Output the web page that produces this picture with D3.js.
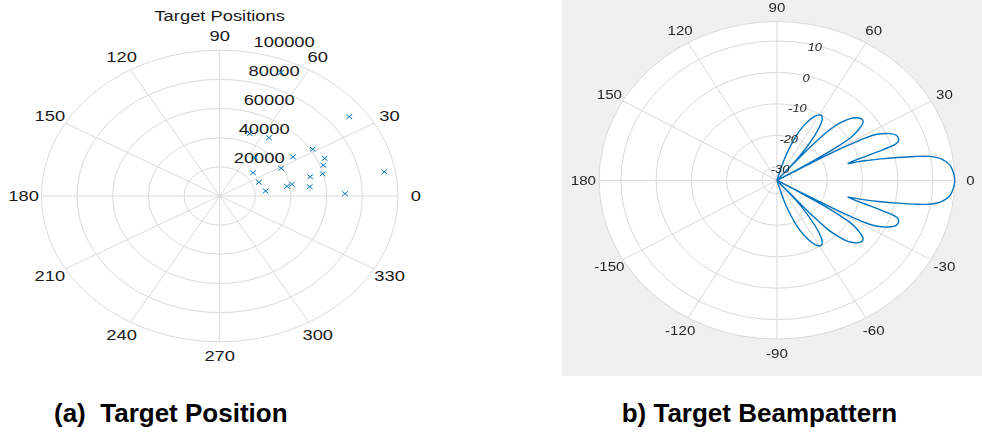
<!DOCTYPE html>
<html>
<head>
<meta charset="utf-8">
<script src="https://cdn.jsdelivr.net/npm/d3@7"></script>
<style>
  html, body { margin: 0; padding: 0; background: #ffffff; }
  svg { display: block; font-family: "Liberation Sans", Arial, Helvetica, sans-serif; }
</style>
</head>
<body>
<svg id="fig" width="982" height="433"></svg>
<script>
// ---------- Panel (a): target positions (angle in degrees, range) ----------
const targetAngles = [36.8, 10.2, 1.3, 68.5, 55.4, 31.6, 33.2, 23.7, 53.0, 20.0,
                      28.9, 14.8, 14.6, 40.5, 23.2, 7.2, 10.0, 11.2, 7.6, 67.9];
const targetRanges = [90800, 93800, 70300, 46000, 48600, 61200, 49100, 64300, 32900, 61800,
                      39300, 59700, 52400, 24600, 23900, 50900, 38300, 41300, 26000, 91500];
const rangeTicks = [20000, 40000, 60000, 80000, 100000];
const positionSpokes = [0, 30, 60, 90, 120, 150, 180, 210, 240, 270, 300, 330];
const positionSpokeLabels = ["0", "30", "60", "90", "120", "150", "180", "210", "240", "270", "300", "330"];

// ---------- Panel (b): beampattern (angle in degrees, gain in dB) ----------
const beamAngles = [
  -90, -73.5, -72.5, -70.5, -68.5, -66, -63.5, -61, -58.5, -56.5, -54.5, -53, -51, -49.5,
  -48.6, -48.3, -48, -47.3, -46.5, -45.4, -44.5, -43.3, -42, -40.5, -39, -37.7, -36.5, -35.3,
  -34, -32.9, -31.9, -31.1, -30.2,
  -29.6, -29.4, -29.2, -28.8, -28.3, -27.2, -25.1, -22.9, -21, -19.5, -18.6, -18, -17.1, -16.2,
  -14.8, -14.4, -14, -13, -12, -11, -10, -9, -8, -6, -4, -2,
  0,
  2, 4, 6, 8, 9, 10, 11, 12, 13, 14, 14.4, 14.8,
  16.2, 17.1, 18, 18.6, 19.5, 21, 22.9, 25.1, 27.2, 28.3, 28.8, 29.2, 29.4, 29.6,
  30.2, 31.1, 31.9, 32.9, 34, 35.3, 36.5, 37.7, 39, 40.5, 42, 43.3, 44.5, 45.4, 46.5, 47.3,
  48, 48.3, 48.6,
  49.5, 51, 53, 54.5, 56.5, 58.5, 61, 63.5, 66, 68.5, 70.5, 72.5, 73.5, 90
];
const beamGain = [
  -34.3, -34.3, -27, -22.5, -18.5, -15, -12.3, -10.6, -10.1, -11, -13.5, -16.5, -21.5, -26,
  -34.3, -23, -18.6, -13.4, -11, -8.7, -7.2, -5.7, -4.6, -3.8, -3.3, -3.4, -4.0, -5.4,
  -7.3, -9.5, -14.2, -19.9, -28,
  -34.3, -25, -16, -10.6, -6.3, -2.3, 0.7, 2.5, 2.7, 2.2, 0.7, -2.4, -6.6, -10.6,
  -13.5, -10.8, -8.6, -4.0, 0.6, 5.4, 9.6, 11.8, 13.2, 14.9, 15.6, 16.0,
  16.2,
  16.0, 15.6, 14.9, 13.2, 11.8, 9.6, 5.4, 0.6, -4.0, -8.6, -10.8, -13.5,
  -10.6, -6.6, -2.4, 0.7, 2.2, 2.7, 2.5, 0.7, -2.3, -6.3, -10.6, -16, -25, -34.3,
  -28, -19.9, -14.2, -9.5, -7.3, -5.4, -4.0, -3.4, -3.3, -3.8, -4.6, -5.7, -7.2, -8.7, -11, -13.4,
  -18.6, -23, -34.3,
  -26, -21.5, -16.5, -13.5, -11, -10.1, -10.6, -12.3, -15, -18.5, -22.5, -27, -34.3, -34.3
];
const gainTicks = [-30, -20, -10, 0, 10];
const beamSpokes = [0, 30, 60, 90, 120, 150, 180, 210, 240, 270, 300, 330];
const beamSpokeLabels = ["0", "30", "60", "90", "120", "150", "180", "-150", "-120", "-90", "-60", "-30"];

const captions = ["(a)\u00a0 Target Position", "b) Target Beampattern"];

const svg = d3.select("#fig");
const rad = d => d * Math.PI / 180;
const polar = (deg, r) => [r * Math.cos(rad(deg)), -r * Math.sin(rad(deg))];

// ================= Panel (a) =================
const aR = 145.8;
const aG = svg.append("g").attr("transform", "translate(219.7,196) scale(1.223,1)");
const rA = d3.scaleLinear().domain([0, 100000]).range([0, aR]);

const gridA = aG.append("g").attr("fill", "none").attr("stroke", "#dadada").attr("stroke-width", 1);
gridA.selectAll("circle").data(rangeTicks).join("circle")
  .attr("r", d => rA(d)).attr("vector-effect", "non-scaling-stroke");
gridA.selectAll("line").data(positionSpokes).join("line")
  .attr("x1", 0).attr("y1", 0)
  .attr("x2", d => polar(d, aR)[0]).attr("y2", d => polar(d, aR)[1])
  .attr("vector-effect", "non-scaling-stroke");

aG.append("g").attr("font-size", 15).attr("fill", "#1a1a1a")
  .selectAll("text").data(positionSpokes).join("text")
  .attr("x", d => polar(d, aR * 1.1)[0]).attr("y", d => polar(d, aR * 1.1)[1])
  .attr("text-anchor", "middle").attr("dominant-baseline", "central")
  .text((d, i) => positionSpokeLabels[i]);

aG.append("g").attr("font-size", 15).attr("fill", "#1a1a1a")
  .selectAll("text").data(rangeTicks).join("text")
  .attr("x", d => polar(82, rA(d + 1000))[0] + 7.2)
  .attr("y", d => polar(82, rA(d + 1000))[1] - 3)
  .text(d => d);

aG.append("text").attr("x", 0).attr("y", -175).attr("text-anchor", "middle")
  .attr("font-size", 15).attr("fill", "#1a1a1a").text("Target Positions");

const mk = 2.3;
aG.append("g").attr("stroke", "#0072bd").attr("stroke-width", 1).attr("fill", "none")
  .selectAll("path").data(targetAngles).join("path")
  .attr("transform", (d, i) => {
    const p = polar(d, rA(targetRanges[i]));
    return `translate(${p[0]},${p[1]})`;
  })
  .attr("d", `M${-mk},${-mk}L${mk},${mk}M${-mk},${mk}L${mk},${-mk}`)
  .attr("vector-effect", "non-scaling-stroke");

// ================= Panel (b) =================
const defs = svg.append("defs");
defs.append("filter").attr("id", "soft").attr("x", "-5%").attr("y", "-5%").attr("width", "110%").attr("height", "110%")
  .append("feGaussianBlur").attr("stdDeviation", 0.45);

const panelB = svg.append("g").attr("filter", "url(#soft)");
panelB.append("rect").attr("x", 561.7).attr("y", 0).attr("width", 982 - 561.7).attr("height", 376)
  .attr("fill", "#f0f0f0");

const bR = 158.8;
const bG = panelB.append("g").attr("transform", "translate(776.9,180.3) scale(1.12,1)");
const rB = d3.scaleLinear().domain(d3.extent(beamGain)).range([0, bR]);

bG.append("circle").attr("r", bR).attr("fill", "#ffffff");
const gridB = bG.append("g").attr("fill", "none").attr("stroke", "#d9d9d9").attr("stroke-width", 1);
gridB.selectAll("circle").data(gainTicks).join("circle")
  .attr("r", d => rB(d)).attr("vector-effect", "non-scaling-stroke");
gridB.append("circle").attr("r", bR).attr("vector-effect", "non-scaling-stroke");
gridB.selectAll("line").data(beamSpokes).join("line")
  .attr("x1", 0).attr("y1", 0)
  .attr("x2", d => polar(d, bR)[0]).attr("y2", d => polar(d, bR)[1])
  .attr("vector-effect", "non-scaling-stroke");

bG.append("g").attr("font-size", 13.5).attr("fill", "#262626")
  .selectAll("text").data(beamSpokes).join("text")
  .attr("x", d => polar(d, bR * 1.088)[0]).attr("y", d => polar(d, bR * 1.088)[1])
  .attr("text-anchor", "middle").attr("dominant-baseline", "central")
  .text((d, i) => beamSpokeLabels[i]);

const beamLine = d3.line()
  .x((d, i) => polar(d, rB(beamGain[i]))[0])
  .y((d, i) => polar(d, rB(beamGain[i]))[1])
  .curve(d3.curveCatmullRom.alpha(0.5));
bG.append("path").datum(beamAngles)
  .attr("d", beamLine)
  .attr("fill", "none").attr("stroke", "#0072bd").attr("stroke-width", 1.4)
  .attr("stroke-linejoin", "round")
  .attr("vector-effect", "non-scaling-stroke");

bG.append("g").attr("font-size", 11.5).attr("font-style", "italic").attr("fill", "#262626")
  .selectAll("text").data(gainTicks).join("text")
  .attr("x", d => polar(75.7, rB(d) - 2.2)[0]).attr("y", d => polar(75.7, rB(d) - 2.2)[1])
  .attr("text-anchor", "middle").attr("dominant-baseline", "central")
  .text(d => d);

// ================= Captions =================
svg.append("g").attr("font-size", 26).attr("font-weight", "bold").attr("fill", "#000")
  .selectAll("text").data(captions).join("text")
  .attr("x", (d, i) => i === 0 ? 54 : 621.7).attr("y", 421.5)
  .text(d => d);
</script>
</body>
</html>
